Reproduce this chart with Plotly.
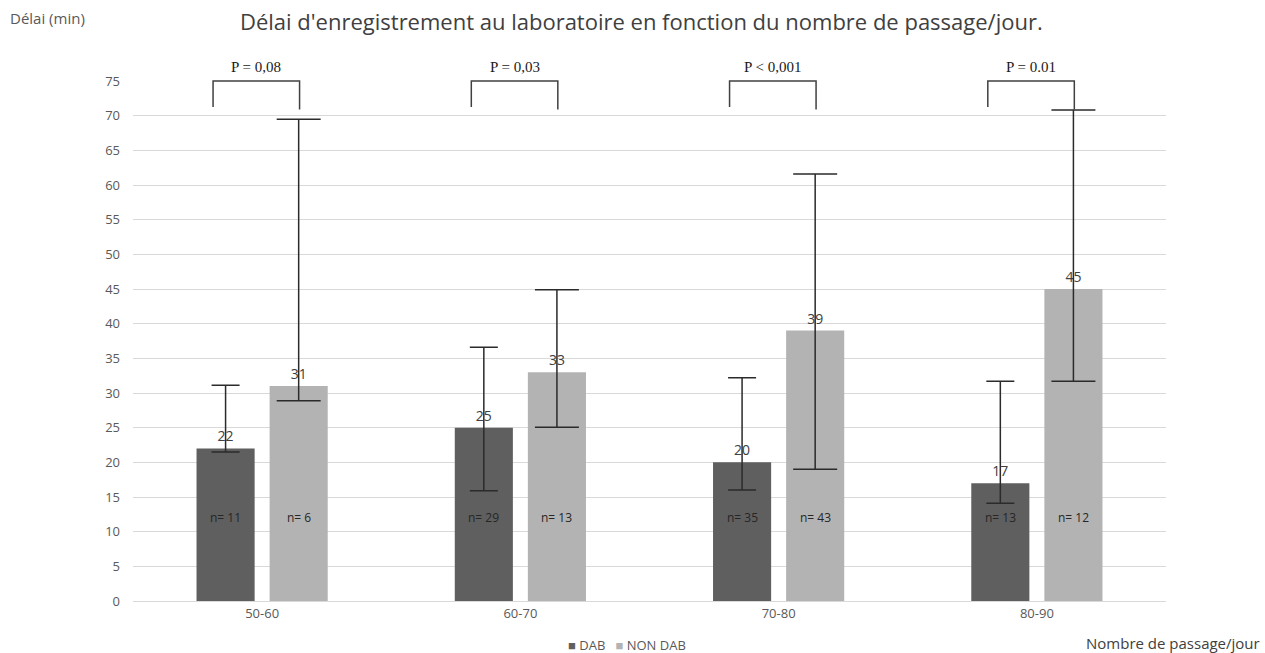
import plotly.graph_objects as go

categories = ["50-60", "60-70", "70-80", "80-90"]
dab_values = [22, 25, 20, 17]
dab_upper = [31.1, 36.6, 32.2, 31.7]
dab_lower = [21.5, 15.9, 16.0, 14.1]
dab_n = ["n= 11", "n= 29", "n= 35", "n= 13"]

nondab_values = [31, 33, 39, 45]
nondab_upper = [69.5, 44.9, 61.6, 70.8]
nondab_lower = [28.9, 25.05, 19.0, 31.7]
nondab_n = ["n= 6", "n= 13", "n= 43", "n= 12"]

p_values = ["P = 0,08", "P = 0,03", "P < 0,001", "P = 0.01"]
y_ticks = list(range(0, 80, 5))

series_names = ["DAB", "NON DAB"]
series_colors = ["#5f5f5f", "#b3b3b3"]

BARGAP = 0.434
GROUPGAP = 0.205
off = (1 - BARGAP) / 4

font_main = "Open Sans"
err_col = "#2b2b2b"

fig = go.Figure()
fig.add_trace(go.Bar(
    name=series_names[0], x=categories, y=dab_values,
    marker=dict(color=series_colors[0], line=dict(width=0)),
    text=[str(v) for v in dab_values], textposition="outside",
    textfont=dict(color="#404040", size=14, family=font_main),
    cliponaxis=False,
    error_y=dict(type="data", symmetric=False,
                 array=[u - v for u, v in zip(dab_upper, dab_values)],
                 arrayminus=[v - l for v, l in zip(dab_values, dab_lower)],
                 color=err_col, thickness=1.5, width=14),
))
fig.add_trace(go.Bar(
    name=series_names[1], x=categories, y=nondab_values,
    marker=dict(color=series_colors[1], line=dict(width=0)),
    text=[str(v) for v in nondab_values], textposition="outside",
    textfont=dict(color="#404040", size=14, family=font_main),
    cliponaxis=False,
    error_y=dict(type="data", symmetric=False,
                 array=[u - v for u, v in zip(nondab_upper, nondab_values)],
                 arrayminus=[v - l for v, l in zip(nondab_values, nondab_lower)],
                 color=err_col, thickness=1.5, width=22),
))

annotations = []
shapes = []
for i in range(len(categories)):
    annotations.append(dict(x=i - off, y=12.1, xref="x", yref="y", text=dab_n[i],
                            showarrow=False, font=dict(size=12, color="#262626", family=font_main)))
    annotations.append(dict(x=i + off, y=12.1, xref="x", yref="y", text=nondab_n[i],
                            showarrow=False, font=dict(size=12, color="#262626", family=font_main)))
    left = i - 0.19
    right = i + 0.145
    shapes.append(dict(type="path", xref="x", yref="paper",
                       path=f"M {left},0.95 L {left},1.0 L {right},1.0 L {right},0.945",
                       line=dict(color="#404040", width=1.5)))
    annotations.append(dict(x=(left + right) / 2, y=1.0, xref="x", yref="paper", text=p_values[i],
                            showarrow=False, yanchor="bottom", yshift=4,
                            font=dict(size=15, color="#1a1a1a", family="Liberation Serif")))

annotations.append(dict(x=-0.121, y=1.121, xref="paper", yref="paper", text="Délai (min)",
                        showarrow=False, xanchor="left", yanchor="middle",
                        font=dict(size=15, color="#595959", family=font_main)))
annotations.append(dict(x=1.093, y=-0.08, xref="paper", yref="paper", text="Nombre de passage/jour",
                        showarrow=False, xanchor="right", yanchor="middle",
                        font=dict(size=15, color="#404040", family=font_main)))
legend_text = "   ".join(
    f"<span style='color:{c}'>■</span> {n}" for n, c in zip(series_names, series_colors))
annotations.append(dict(x=(566 - 133) / 1033, y=-0.085, xref="paper", yref="paper", text=legend_text,
                        showarrow=False, xanchor="left", yanchor="middle",
                        font=dict(size=13, color="#595959", family=font_main)))

fig.update_layout(
    width=1265, height=653,
    paper_bgcolor="white", plot_bgcolor="white",
    margin=dict(l=133, r=99, t=81, b=52, autoexpand=False),
    barmode="group", bargap=BARGAP, bargroupgap=GROUPGAP,
    title=dict(text="Délai d'enregistrement au laboratoire en fonction du nombre de passage/jour.",
               x=0.507, xanchor="center", y=1 - 22 / 653, yanchor="middle",
               font=dict(size=22, color="#404040", family=font_main)),
    font=dict(family=font_main, color="#595959"),
    showlegend=False,
    annotations=annotations,
    shapes=shapes,
)
fig.update_xaxes(showgrid=False, showline=True, linecolor="#d9d9d9", linewidth=1,
                 tickfont=dict(size=13, color="#595959", family=font_main), ticks="")
fig.update_yaxes(range=[0, 75], tickvals=y_ticks, showgrid=True, gridcolor="#d9d9d9", gridwidth=1,
                 zeroline=False, showline=False,
                 tickfont=dict(size=13, color="#595959", family=font_main),
                 ticklabelstandoff=12)

fig.write_html("out.html", config={"displayModeBar": False},
               post_script="document.body.style.margin='0';")
